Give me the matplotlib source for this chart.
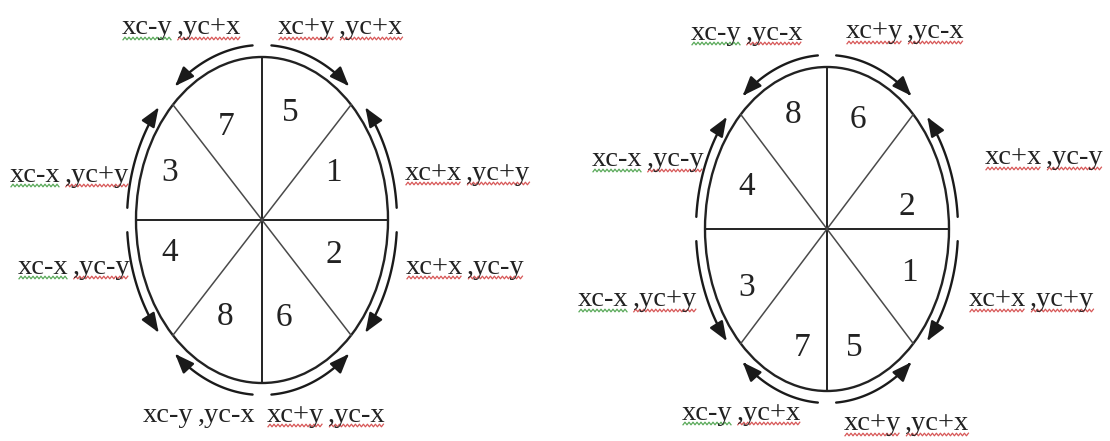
import numpy as np
import matplotlib
matplotlib.use('Agg')
import matplotlib.pyplot as plt
from matplotlib.patches import Ellipse, FancyArrowPatch
from matplotlib.path import Path

# octants counted counter-clockwise from the +x axis (0-45, 45-90, ...)
left_digits = ['1', '5', '7', '3', '4', '8', '6', '2']
right_digits = ['2', '6', '8', '4', '3', '7', '5', '1']

left_labels = ['xc+x ,yc+y', 'xc+y ,yc+x', 'xc-y ,yc+x', 'xc-x ,yc+y',
               'xc-x ,yc-y', 'xc-y ,yc-x', 'xc+y ,yc-x', 'xc+x ,yc-y']
right_labels = ['xc+x ,yc-y', 'xc+y ,yc-x', 'xc-y ,yc-x', 'xc-x ,yc-y',
                'xc-x ,yc+y', 'xc-y ,yc+x', 'xc+y ,yc+x', 'xc+x ,yc+y']

# layout (pixels): ellipse centre / half axes, digit offsets, label anchors
left_geo = (262, 220, 126, 163)
right_geo = (827, 229, 122, 162)
left_digit_off = [(71, -47), (28, -107), (-36, -93), (-92, -47),
                  (-92, 33), (-37, 97), (22, 98), (72, 35)]
right_digit_off = [(80, -22), (31, -109), (-34, -114), (-80, -42),
                   (-80, 59), (-25, 119), (27, 119), (82, 44)]
left_label_pos = [(405, 173), (278, 28), (122, 28), (10, 175),
                  (18, 267), (143, 415), (267, 415), (406, 267)]
right_label_pos = [(985, 158), (846, 32), (691, 33), (592, 160),
                   (578, 300), (682, 413), (844, 424), (969, 300)]

G = '#3c9a3c'
R = '#d03a3a'
left_marks = [(R, R), (R, R), (G, R), (G, R), (G, R), (None, None), (R, R), (R, R)]
right_marks = [(R, R), (R, R), (G, R), (G, R), (G, R), (G, R), (R, R), (R, R)]

INK = '#222222'
FONT = 'Liberation Serif'

fig = plt.figure(figsize=(11.1, 4.41), dpi=100)
ax = fig.add_axes([0, 0, 1, 1])
ax.set_xlim(0, 1110)
ax.set_ylim(441, 0)
ax.axis('off')

pending = []


def draw_circle(geo, digits, digit_off, labels, label_pos, marks):
    cx, cy, a, b = geo
    ax.add_patch(Ellipse((cx, cy), 2 * a, 2 * b, fill=False, lw=1.7, ec=INK))
    ax.plot([cx - a, cx + a], [cy, cy], color=INK, lw=1.4)
    ax.plot([cx, cx], [cy - b, cy + b], color=INK, lw=1.4)
    c = np.cos(np.pi / 4)
    ax.plot([cx - a * c, cx + a * c], [cy - b * c, cy + b * c], color='#4a4a4a', lw=1.1)
    ax.plot([cx - a * c, cx + a * c], [cy + b * c, cy - b * c], color='#4a4a4a', lw=1.1)

    A, B = a + 9, b + 12
    for k in range(8):
        lo, hi = 45 * k, 45 * (k + 1)
        if lo % 90 == 0:
            start, end = lo + 4, hi - 5
        else:
            start, end = hi - 4, lo + 5
        t = np.radians(np.linspace(start, end, 40))
        verts = np.column_stack([cx + A * np.cos(t), cy - B * np.sin(t)])
        arr = FancyArrowPatch(path=Path(verts),
                              arrowstyle='-|>,head_length=1.15,head_width=0.45',
                              mutation_scale=10, lw=1.7, color='#1a1a1a',
                              shrinkA=0, shrinkB=0)
        ax.add_patch(arr)

        dx, dy = digit_off[k]
        ax.text(cx + dx, cy + dy, digits[k], fontsize=24, family=FONT,
                color=INK, ha='center', va='center')

        p1, p2 = labels[k].split(' ')
        x, y = label_pos[k]
        t1 = ax.text(x, y, p1, fontsize=20.5, family=FONT, color=INK,
                     ha='left', va='center')
        t2 = ax.annotate(p2, xy=(1, 0), xycoords=t1, xytext=(3, 0),
                         textcoords='offset points', fontsize=20.5, family=FONT,
                         color=INK, ha='left', va='bottom')
        pending.append((t1, marks[k][0]))
        pending.append((t2, marks[k][1]))


draw_circle(left_geo, left_digits, left_digit_off, left_labels, left_label_pos, left_marks)
draw_circle(right_geo, right_digits, right_digit_off, right_labels, right_label_pos, right_marks)

# spell-check style wavy underlines under each word
fig.canvas.draw()
inv = ax.transData.inverted()
for t, col in pending:
    if col is None:
        continue
    bb = t.get_window_extent()
    (x0, y0), (x1, _) = inv.transform([(bb.x0, bb.y0), (bb.x1, bb.y0)])
    xs = np.arange(x0 + 1, x1 - 1, 2.0)
    ys = y0 - 2 + 1.3 * (-1) ** np.arange(len(xs))
    ax.plot(xs, ys, color=col, lw=0.9, alpha=0.85)

fig.savefig('out.png', dpi=100, facecolor='white')
